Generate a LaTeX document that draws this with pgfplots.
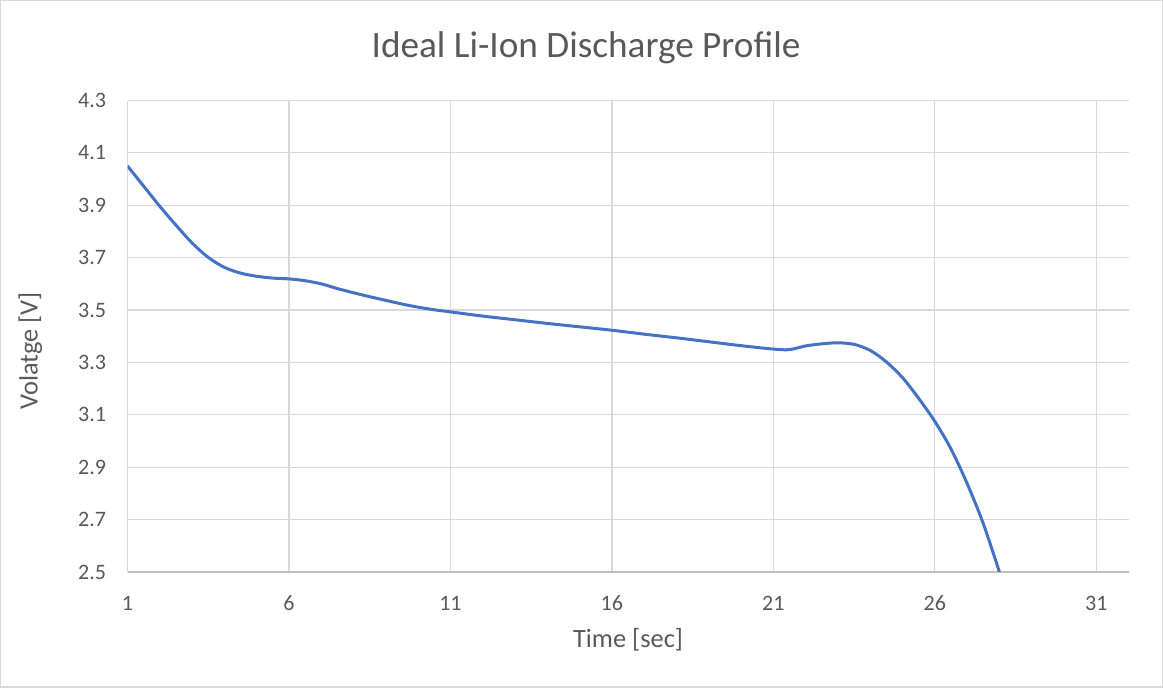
\documentclass[border=0pt]{standalone}
\usepackage{fontspec}
\setmainfont{Carlito}
\usepackage{pgfplots}
\pgfplotsset{compat=1.18}
\definecolor{txt}{HTML}{595959}
\definecolor{gridc}{HTML}{D9D9D9}
\definecolor{axc}{HTML}{BFBFBF}
\definecolor{linec}{HTML}{4472C4}
\begin{document}
\begin{tikzpicture}[x=1pt,y=1pt]
\draw[gridc, line width=0.6pt] (0.6,0.6) rectangle (580.9,343.4);
\begin{axis}[
  at={(64pt,58pt)}, anchor=origin,
  scale only axis, width=500pt, height=235.5pt,
  xmin=1, xmax=32, ymin=2.5, ymax=4.3,
  xtick={1,6,11,16,21,26,31},
  ytick={2.5,2.7,2.9,3.1,3.3,3.5,3.7,3.9,4.1,4.3},
  yticklabel={\pgfmathprintnumber[fixed,precision=1,fixed zerofill,assume math mode=true]{\tick}},
  major tick length=0pt,
  grid=major,
  major grid style={gridc, line width=0.6pt},
  axis x line*=bottom, axis y line*=left,
  x axis line style={axc, line width=0.7pt, -},
  y axis line style={gridc, line width=0.6pt, -},
  /pgf/number format/assume math mode=true,
  ticklabel style={font=\fontsize{11}{12}\selectfont, text=txt},
  yticklabel style={anchor=east, inner sep=0pt, xshift=-10.5pt},
  xticklabel style={anchor=center, inner sep=0pt, yshift=-15.5pt},
  clip=true,
]
\addplot[linec, line width=1.5pt, smooth, tension=0.5] coordinates {
(1,4.05) (1.5,3.973) (2,3.896) (2.5,3.824) (3,3.756) (3.5,3.701) (4,3.663) (4.5,3.641)
(5,3.629) (5.5,3.622) (6,3.619) (6.5,3.612) (7,3.600) (7.5,3.582) (8,3.566)
(8.5,3.551) (9,3.537) (9.5,3.523) (10,3.511) (10.5,3.501) (11,3.493) (12,3.477) (13,3.463) (14,3.449) (15,3.436)
(16,3.423) (17,3.408) (18,3.394) (19,3.379) (20,3.364) (21,3.351) (21.5,3.349)
(22,3.363) (22.5,3.371) (23,3.375) (23.5,3.369) (24,3.346) (24.5,3.302) (25,3.242)
(25.5,3.163) (26,3.075) (26.5,2.97) (27,2.838) (27.5,2.685) (28,2.50)
};
\end{axis}
\node[text=txt, font=\fontsize{18.6}{21}\selectfont] at (293,320) {Ideal Li-Ion Discharge Profile};
\node[text=txt, font=\fontsize{13.2}{15}\selectfont] at (314,24) {Time [sec]};
\node[text=txt, font=\fontsize{13.2}{15}\selectfont, rotate=90] at (15.5,168.5) {Volatge [V]};
\end{tikzpicture}
\end{document}
